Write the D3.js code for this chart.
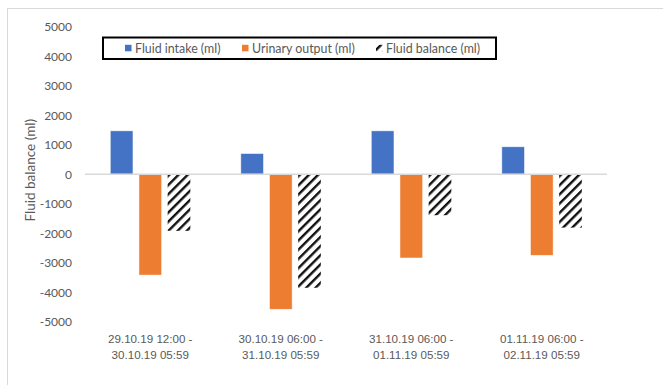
<!DOCTYPE html>
<html>
<head>
<meta charset="utf-8">
<script src="https://cdn.jsdelivr.net/npm/d3@7"></script>
<style>
  html, body { margin: 0; padding: 0; background: #fff; }
  svg { display: block; font-family: Lato, "Liberation Sans", sans-serif; }
</style>
</head>
<body>
<svg id="chart" width="663" height="385"></svg>
<script>
// Daily fluid records, one entry per 24 h period
const categories = [
  ["29.10.19 12:00 -", "30.10.19 05:59"],
  ["30.10.19 06:00 -", "31.10.19 05:59"],
  ["31.10.19 06:00 -", "01.11.19 05:59"],
  ["01.11.19 06:00 -", "02.11.19 05:59"]
];
const seriesNames = ["Fluid intake (ml)", "Urinary output (ml)", "Fluid balance (ml)"];
const fluidIntake = [1470, 700, 1470, 930];
const urinaryOutput = [-3420, -4580, -2840, -2750];
const fluidBalance = [-1920, -3850, -1390, -1810];
const yTicks = [5000, 4000, 3000, 2000, 1000, 0, -1000, -2000, -3000, -4000, -5000];
const yTitle = "Fluid balance (ml)";

const seriesValues = [fluidIntake, urinaryOutput, fluidBalance];

const svg = d3.select("#chart");
const textColor = "#595959";
const gridColor = "#d9d9d9";

// outer chart frame
svg.append("rect")
  .attr("x", 7.5).attr("y", 8.5)
  .attr("width", 700).attr("height", 400)
  .attr("fill", "none").attr("stroke", gridColor).attr("stroke-width", 1);

// diagonal hatch for the balance series
const defs = svg.append("defs");
const pat = defs.append("pattern")
  .attr("id", "hatch")
  .attr("patternUnits", "userSpaceOnUse")
  .attr("width", 6.5).attr("height", 6.5)
  .attr("patternTransform", "rotate(45)");
pat.append("rect").attr("width", 6.5).attr("height", 6.5).attr("fill", "#fff");
pat.append("rect").attr("x", 0).attr("y", 0).attr("width", 2.4).attr("height", 6.5).attr("fill", "#111");

const fills = ["#4472C4", "#ED7D31", "url(#hatch)"];

const plot = { left: 85, right: 607, top: 26.7, bottom: 321.7 };

const x0 = d3.scaleBand()
  .domain(d3.range(categories.length))
  .range([plot.left, plot.right])
  .padding(0);

const x1 = d3.scaleBand()
  .domain(d3.range(seriesNames.length))
  .range([x0.bandwidth() * 0.194, x0.bandwidth() * 0.807])
  .paddingInner(0.21)
  .paddingOuter(0);

const y = d3.scaleLinear().domain([-5000, 5000]).range([plot.bottom, plot.top]);

// y axis labels (plain hyphen for negatives)
const yAxis = d3.axisLeft(y).tickValues(yTicks).tickSize(0).tickPadding(0).tickFormat(d => String(d));
const yg = svg.append("g").attr("transform", `translate(72,0)`).call(yAxis);
yg.select(".domain").remove();
yg.selectAll("text")
  .attr("fill", textColor)
  .style("font-size", "12px")
  .style("font-family", "Lato, 'Liberation Sans', sans-serif");

// bars
const groups = svg.append("g").selectAll("g")
  .data(categories)
  .join("g")
  .attr("transform", (d, i) => `translate(${x0(i)},0)`);

groups.selectAll("rect")
  .data((d, i) => seriesValues.map((vals, s) => ({ s, v: vals[i] })))
  .join("rect")
  .attr("x", d => x1(d.s))
  .attr("width", x1.bandwidth())
  .attr("y", d => y(Math.max(0, d.v)))
  .attr("height", d => Math.abs(y(d.v) - y(0)))
  .attr("fill", d => fills[d.s])
  .attr("stroke", d => d.s < 2 ? "rgba(255,255,255,0.6)" : "none")
  .attr("stroke-width", 0.8);

// zero baseline
svg.append("line")
  .attr("x1", plot.left).attr("x2", plot.right)
  .attr("y1", y(0)).attr("y2", y(0))
  .attr("stroke", gridColor).attr("stroke-width", 1.5);

// category labels (two lines each)
const xAxis = d3.axisBottom(x0).tickSize(0).tickFormat("");
const xg = svg.append("g").attr("transform", `translate(0,${plot.bottom})`).call(xAxis);
xg.select(".domain").remove();
xg.selectAll(".tick").each(function (d) {
  const t = d3.select(this).append("text")
    .attr("fill", textColor)
    .attr("text-anchor", "middle")
    .style("font-size", "11.6px");
  categories[d].forEach((line, k) => {
    t.append("tspan").attr("x", 0).attr("y", 21.5 + k * 16).text(line);
  });
});

// y axis title
svg.append("text")
  .attr("transform", `translate(35,${y(0) - 4}) rotate(-90)`)
  .attr("text-anchor", "middle")
  .attr("fill", textColor)
  .style("font-size", "13.5px")
  .text(yTitle);

// legend
const legend = svg.append("g");
legend.append("rect")
  .attr("x", 103).attr("y", 37.5)
  .attr("width", 393).attr("height", 21.5)
  .attr("fill", "#fff").attr("stroke", "#000").attr("stroke-width", 2);

const legendX = [125, 242, 376];
const li = legend.selectAll("g.item")
  .data(seriesNames)
  .join("g")
  .attr("class", "item")
  .attr("transform", (d, i) => `translate(${legendX[i]},48.3)`);
li.append("rect")
  .attr("x", 0).attr("y", -3.5)
  .attr("width", 6.5).attr("height", 6.5)
  .attr("fill", (d, i) => fills[i]);
li.append("text")
  .attr("x", 10).attr("y", 4.3)
  .attr("fill", textColor)
  .style("font-size", "12.4px")
  .text(d => d);
</script>
</body>
</html>
